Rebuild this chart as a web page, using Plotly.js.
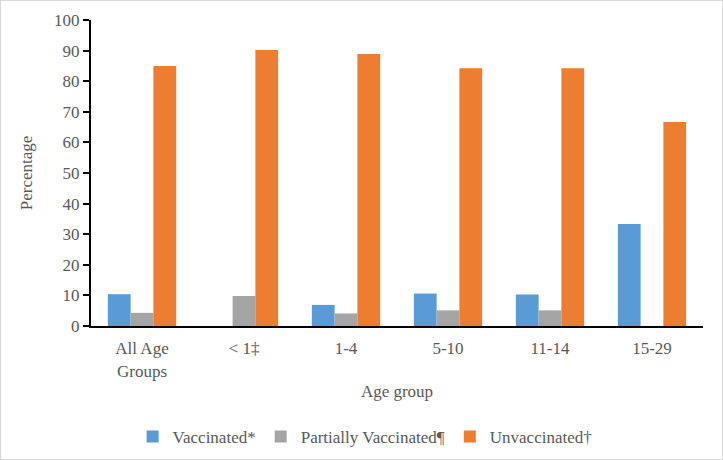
<!DOCTYPE html>
<html>
<head>
<meta charset="utf-8">
<script src="https://cdn.plot.ly/plotly-3.0.1.min.js"></script>
<style>
html,body{margin:0;padding:0;background:#fff;}
#wrap{position:relative;width:723px;height:460px;}
#chart{width:723px;height:460px;}
#frame{position:absolute;left:0;top:0;width:723px;height:460px;box-sizing:border-box;border:1px solid #d9d9d9;pointer-events:none;}
</style>
</head>
<body>
<div id="wrap"><div id="chart"></div><div id="frame"></div></div>
<script>
const categories = ['All Age<br>Groups', '< 1‡', '1-4', '5-10', '11-14', '15-29'];
const vaccinated = [10.4, 0, 6.9, 10.6, 10.3, 33.3];
const partiallyVaccinated = [4.3, 9.8, 4.1, 5.1, 5.1, 0];
const unvaccinated = [85.0, 90.2, 88.9, 84.2, 84.2, 66.7];
const seriesNames = ['Vaccinated*', 'Partially Vaccinated¶', 'Unvaccinated†'];
const yTicks = [0,10,20,30,40,50,60,70,80,90,100];

const colors = ['#5B9BD5', '#A5A5A5', '#ED7D31'];
const values = [vaccinated, partiallyVaccinated, unvaccinated];
const font = 'Liberation Serif, Times New Roman, serif';

const data = values.map((v, i) => ({
  type: 'bar', x: categories, y: v, name: seriesNames[i],
  marker: {color: colors[i]}, hoverinfo: 'none'
}));

const layout = {
  width: 723, height: 460,
  margin: {l: 91, r: 20, t: 20, b: 134},
  paper_bgcolor: '#fff', plot_bgcolor: '#fff',
  font: {family: font, size: 17, color: '#595959'},
  barmode: 'group', bargap: 0.33, bargroupgap: 0,
  showlegend: true,
  legend: {orientation: 'h', xref: 'container', yref: 'container', x: 0.505, xanchor: 'center', y: 0.05, yanchor: 'middle',
           font: {family: font, size: 17, color: '#595959'}, itemwidth: 30, traceorder: 'normal'},
  xaxis: {
    type: 'category', showline: true, linecolor: '#000', linewidth: 2, ticks: '',
    showgrid: false, zeroline: false, automargin: false, ticklabelstandoff: 6,
    tickfont: {family: font, size: 17, color: '#595959'},
    title: {text: 'Age group', font: {family: font, size: 17, color: '#595959'}, standoff: 6}
  },
  yaxis: {
    range: [0, 100], tickvals: yTicks, showline: true, linecolor: '#000', linewidth: 2,
    ticks: 'outside', ticklen: 6, tickwidth: 2, tickcolor: '#000',
    showgrid: false, zeroline: false, automargin: false,
    tickfont: {family: font, size: 17, color: '#595959'},
    title: {text: 'Percentage', font: {family: font, size: 17, color: '#595959'}, standoff: 17}
  }
};

Plotly.newPlot('chart', data, layout, {displayModeBar: false, staticPlot: true});
</script>
</body>
</html>
